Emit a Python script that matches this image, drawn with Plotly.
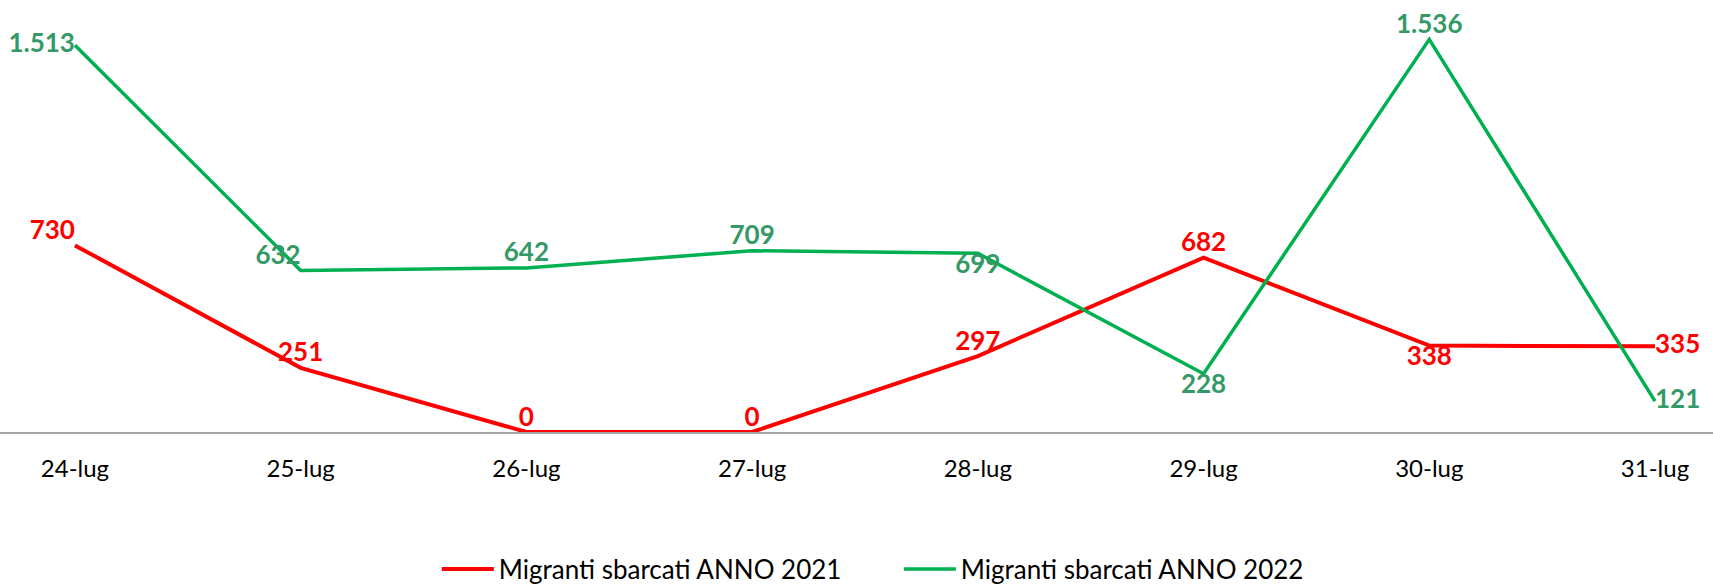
import plotly.graph_objects as go

categories = ["24-lug", "25-lug", "26-lug", "27-lug", "28-lug", "29-lug", "30-lug", "31-lug"]
values_2021 = [730, 251, 0, 0, 297, 682, 338, 335]
values_2022 = [1513, 632, 642, 709, 699, 228, 1536, 121]
labels_2021 = ["730", "251", "0", "0", "297", "682", "338", "335"]
labels_2022 = ["1.513", "632", "642", "709", "699", "228", "1.536", "121"]
name_2021 = "Migranti sbarcati ANNO 2021"
name_2022 = "Migranti sbarcati ANNO 2022"

pos_2021 = ["top left", "top center", "top center", "top center", "top center", "top center", "bottom center", "middle right"]
pos_2022 = ["middle left", "top left", "top center", "top center", "bottom center", "bottom center", "top center", "middle right"]

RED = "#FF0000"
GREEN = "#00B050"
GREEN_TXT = "#339966"
FONT = "Lato"

fig = go.Figure()
fig.add_trace(go.Scatter(x=categories, y=values_2021, mode="lines", name=name_2021,
                         line=dict(color=RED, width=4), cliponaxis=False, hoverinfo="skip"))
fig.add_trace(go.Scatter(x=categories, y=values_2022, mode="lines", name=name_2022,
                         line=dict(color=GREEN, width=3.5), cliponaxis=False, hoverinfo="skip"))
fig.add_trace(go.Scatter(x=categories, y=values_2021, mode="text", text=labels_2021,
                         textposition=pos_2021, showlegend=False, cliponaxis=False,
                         textfont=dict(family=FONT, size=26, color=RED, weight="bold")))
fig.add_trace(go.Scatter(x=categories, y=values_2022, mode="text", text=labels_2022,
                         textposition=pos_2022, showlegend=False, cliponaxis=False,
                         textfont=dict(family=FONT, size=26, color=GREEN_TXT, weight="bold")))

fig.update_layout(
    width=1713, height=585,
    margin=dict(l=0, r=0, t=23, b=153, autoexpand=False),
    paper_bgcolor="white", plot_bgcolor="white",
    font=dict(family=FONT, color="black"),
    xaxis=dict(type="category", range=[-0.332, 7.257], showgrid=False, zeroline=False,
               showline=True, linecolor="#A6A6A6", linewidth=1.5,
               ticks="outside", ticklen=14, tickcolor="rgba(0,0,0,0)",
               tickfont=dict(family=FONT, size=24, color="black")),
    yaxis=dict(range=[0, 1600], visible=False, showgrid=False, zeroline=False),
    legend=dict(orientation="h", x=0.255, xanchor="left", y=-0.335, yanchor="middle",
                font=dict(family=FONT, size=26, color="black"), itemwidth=52,
                entrywidth=395, bgcolor="rgba(0,0,0,0)"),
    showlegend=True,
)

fig.write_html(
    "out.html",
    config={"displayModeBar": False},
    post_script="document.body.style.margin='0';document.body.style.overflow='hidden';",
)
